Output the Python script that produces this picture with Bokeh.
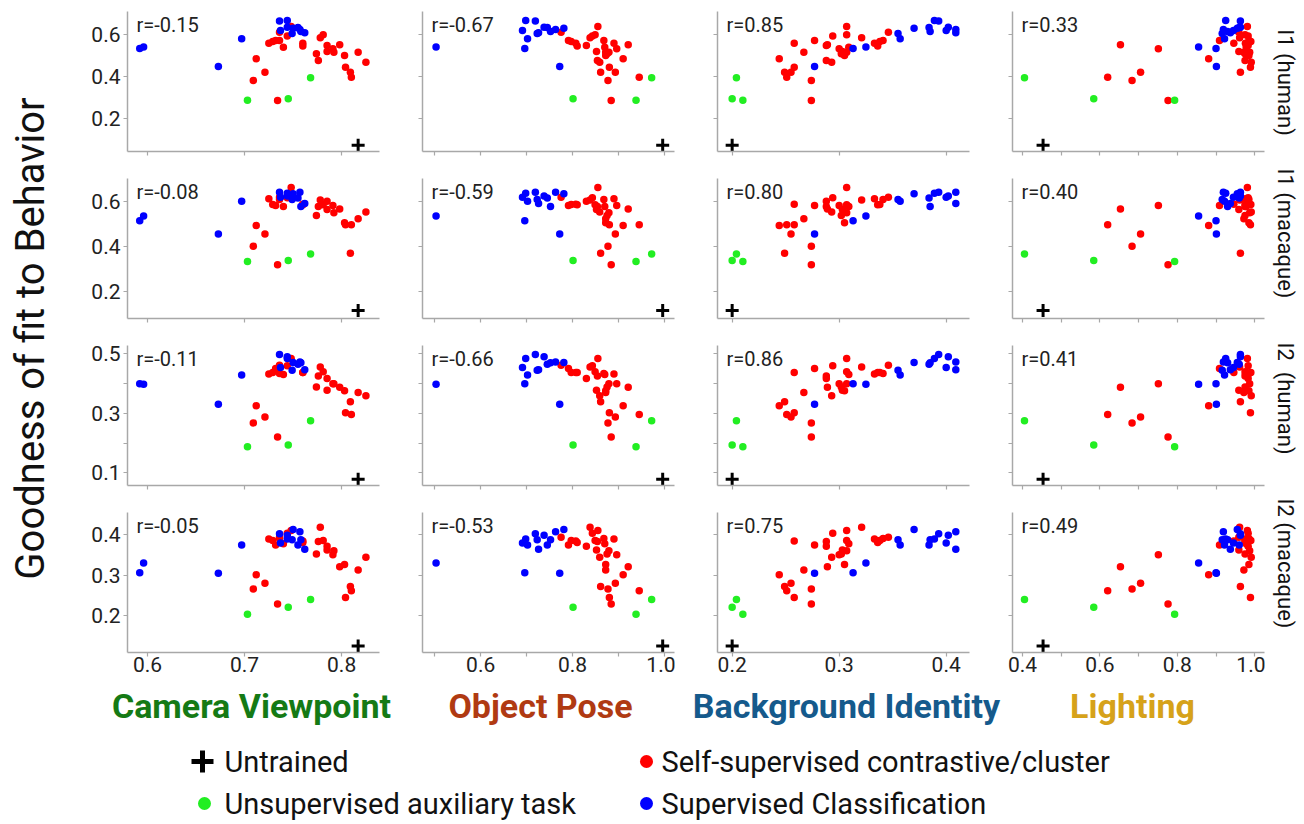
import math
from bokeh.plotting import figure
from bokeh.layouts import row, column
from bokeh.models import Range1d, FixedTicker, CustomJSTickFormatter, PrintfTickFormatter, Label
from bokeh.core.properties import value
from bokeh.embed import file_html
from bokeh.resources import INLINE

FONT = "Roboto"

# ---------------- data ----------------
features = ["Camera Viewpoint", "Object Pose", "Background Identity", "Lighting"]
feature_colors = ["#157a15", "#b03a12", "#155a8c", "#d6a21a"]
behaviors = ["I1 (human)", "I1 (macaque)", "I2\u00a0 (human)", "I2 (macaque)"]
r_values = [[-0.15, -0.67, 0.85, 0.33],
            [-0.08, -0.59, 0.80, 0.40],
            [-0.11, -0.66, 0.86, 0.41],
            [-0.05, -0.53, 0.75, 0.49]]

# Self-supervised contrastive/cluster models
red_cam = [.734, .709, .810, .809, .721, .804, .825, .776, .712, .803, .774, .817, .792, .785, .791,
           .740, .760, .785, .798, .760, .725, .729, .732, .736, .778, .744, .781, .736, .748]
red_pose = [.884, .877, .945, .861, .893, .880, .859, .854, .910, .872, .875, .872, .879, .852, .896,
            .870, .810, .830, .921, .807, .890, .797, .791, .868, .838, .843, .849, .775, .855]
red_bg = [.274, .274, .251, .249, .255, .258, .293, .288, .244, .305, .302, .267, .307, .303, .300,
          .309, .336, .288, .289, .258, .333, .338, .277, .341, .321, .294, .307, .346, .307]
red_light = [.776, .683, .620, .963, .705, .989, .991, .975, .881, .985, .975, .972, .987, .959, .751,
             .978, .979, .983, .653, .946, .976, .990, .909, .985, .961, .983, .975, .959, .981]
red_i1h = [.285, .381, .397, .421, .421, .445, .469, .477, .485, .501, .509, .517, .517, .520, .533,
           .541, .546, .549, .552, .560, .560, .568, .573, .573, .586, .594, .600, .613, .640]
red_i1m = [.319, .401, .496, .370, .455, .496, .553, .578, .493, .505, .538, .523, .550, .564, .582,
           .578, .585, .601, .567, .588, .612, .587, .582, .609, .607, .616, .585, .619, .662]
red_i2h = [.221, .268, .296, .339, .288, .302, .359, .426, .326, .376, .389, .370, .400, .378, .400,
           .431, .437, .417, .388, .437, .432, .437, .451, .434, .456, .460, .440, .462, .484]
red_i2m = [.229, .266, .262, .272, .280, .245, .344, .383, .301, .326, .352, .313, .360, .362, .350,
           .377, .380, .371, .321, .384, .389, .385, .374, .390, .418, .403, .385, .393, .410]

# Supervised Classification models
blue_cam = [.673, .592, .596, .697, .749, .762, .758, .737, .757, .750, .755, .744, .736, .744]
blue_pose = [.772, .696, .503, .702, .723, .726, .752, .691, .763, .781, .745, .738, .719, .698]
blue_bg = [.277, .313, .325, .357, .355, .409, .385, .400, .409, .370, .384, .402, .393, .389]
blue_light = [.901, .900, .855, .922, .916, .937, .930, .945, .919, .955, .960, .963, .963, .925]
blue_i1h = [.448, .534, .542, .581, .606, .610, .616, .621, .626, .632, .635, .637, .666, .669]
blue_i1m = [.455, .514, .535, .601, .609, .591, .578, .619, .641, .634, .615, .624, .641, .637]
blue_i2h = [.331, .400, .398, .429, .445, .447, .470, .454, .473, .471, .465, .490, .498, .484]
blue_i2m = [.305, .306, .330, .374, .387, .364, .387, .379, .407, .412, .374, .398, .402, .389]

# Unsupervised auxiliary task models
green_cam = [.703, .745, .768]
green_pose = [.938, .801, .972]
green_bg = [.210, .200, .204]
green_light = [.793, .584, .405]
green_i1h = [.286, .293, .394]
green_i1m = [.333, .338, .367]
green_i2h = [.188, .194, .275]
green_i2m = [.204, .221, .240]

# Untrained model
untrained_cam = [.817]
untrained_pose = [.996]
untrained_bg = [.200]
untrained_light = [.453]
untrained_i1h = [.070]
untrained_i1m = [.116]
untrained_i2h = [.079]
untrained_i2m = [.126]

groups = [
    dict(label="Self-supervised contrastive/cluster", color="#ff0000", marker="circle",
         xs=[red_cam, red_pose, red_bg, red_light], ys=[red_i1h, red_i1m, red_i2h, red_i2m]),
    dict(label="Supervised Classification", color="#0000ff", marker="circle",
         xs=[blue_cam, blue_pose, blue_bg, blue_light], ys=[blue_i1h, blue_i1m, blue_i2h, blue_i2m]),
    dict(label="Unsupervised auxiliary task", color="#22ee22", marker="circle",
         xs=[green_cam, green_pose, green_bg, green_light], ys=[green_i1h, green_i1m, green_i2h, green_i2m]),
    dict(label="Untrained", color="black", marker="cross",
         xs=[untrained_cam, untrained_pose, untrained_bg, untrained_light],
         ys=[untrained_i1h, untrained_i1m, untrained_i2h, untrained_i2m]),
]

# ---------------- axes setup ----------------
XR = [(0.5794, 0.839), (0.4735, 1.0217), (0.1863, 0.4218), (0.374, 1.0253)]
YR = [(0.040, 0.712), (0.080, 0.702), (0.058, 0.528), (0.110, 0.454)]
XT = [([0.6, 0.7, 0.8], []), ([0.6, 0.8, 1.0], [0.5, 0.7, 0.9]),
      ([0.2, 0.3, 0.4], []), ([0.4, 0.6, 0.8, 1.0], [0.5, 0.7, 0.9])]
YT = [([0.2, 0.4, 0.6], []), ([0.2, 0.4, 0.6], []),
      ([0.1, 0.3, 0.5], [0.2, 0.4]), ([0.2, 0.3, 0.4], [])]

AX_COLOR = "#a8a8a8"
PW = 295


def style_axis(ax, labeled, standoff):
    ax.axis_line_color = AX_COLOR
    ax.axis_line_width = 1.5
    ax.major_tick_line_color = AX_COLOR
    ax.minor_tick_line_color = AX_COLOR
    ax.major_tick_line_width = 1.2
    ax.minor_tick_line_width = 1.2
    ax.major_tick_out = 4
    ax.major_tick_in = 0
    ax.minor_tick_out = 4
    ax.minor_tick_in = 0
    ax.major_label_text_font = FONT
    ax.major_label_text_color = "#222222"
    if labeled:
        ax.major_label_text_font_size = "21px"
        ax.major_label_standoff = standoff
        ax.formatter = PrintfTickFormatter(format="%.1f")
    else:
        ax.major_label_text_font_size = "1px"
        ax.major_label_standoff = 0
        ax.formatter = CustomJSTickFormatter(code="return ''")


rows = []
row_heights = []
for r in range(4):
    figs = []
    last = (r == 3)
    top = 11 if r == 0 else 3
    bb = 34 if last else 24
    h = top + 140 + bb
    row_heights.append(h)
    for c in range(4):
        p = figure(width=PW, height=h, x_range=Range1d(*XR[c]), y_range=Range1d(*YR[r]),
                   output_backend="svg", toolbar_location=None, tools="",
                   min_border_left=42, min_border_right=1, min_border_top=top, min_border_bottom=bb)
        p.outline_line_color = None
        p.grid.visible = False
        p.xaxis.ticker = FixedTicker(ticks=XT[c][0], minor_ticks=XT[c][1])
        p.yaxis.ticker = FixedTicker(ticks=YT[r][0], minor_ticks=YT[r][1])
        style_axis(p.xaxis[0], last, 0)
        style_axis(p.yaxis[0], c == 0, 3)
        for g in groups:
            if g["marker"] == "cross":
                p.scatter(g["xs"][c], g["ys"][r], marker="cross", size=13,
                          line_color="black", line_width=3)
            else:
                p.scatter(g["xs"][c], g["ys"][r], marker="circle", size=7.5,
                          fill_color=g["color"], line_color=None)
        xs, xe = XR[c]
        ys, ye = YR[r]
        p.add_layout(Label(x=xs + 0.036 * (xe - xs), y=ye - 0.095 * (ye - ys),
                           text="r=%.2f" % r_values[r][c], text_font=FONT,
                           text_font_size="20px", text_color="#222222",
                           text_baseline="middle", text_align="left"))
        figs.append(p)
    rows.append(row(*figs))

TOTAL_H = sum(row_heights)


def blank(w, h):
    f = figure(width=w, height=h, x_range=Range1d(0, w), y_range=Range1d(h, 0),
               output_backend="svg", toolbar_location=None, tools="",
               x_axis_location=None, y_axis_location=None, min_border=0)
    f.outline_line_color = None
    f.grid.visible = False
    return f


ylab = blank(85, TOTAL_H)
ylab.text(x=[30], y=[338], text=["Goodness of fit to Behavior"], angle=math.pi / 2,
          text_align="center", text_baseline="middle", text_font=value(FONT),
          text_font_size="40px", text_color="#111111")

RW = 1304 - 85 - 4 * PW
rlab = blank(RW, TOTAL_H)
rlab.text(x=[1285 - (85 + 4 * PW)] * 4, y=[82, 233, 398, 563], text=behaviors, angle=-math.pi / 2,
          text_align="center", text_baseline="middle", text_font=value(FONT),
          text_font_size="22px", text_color="#111111")

BH = 824 - TOTAL_H
Y0 = TOTAL_H
bottom = blank(1304, BH)
bottom.text(x=[251, 540, 846, 1132], y=[705 - Y0] * 4, text=features, text_color=feature_colors,
            text_align="center", text_baseline="middle", text_font=value(FONT),
            text_font_style="bold", text_font_size="34px")

# legend
L1, L2 = 761, 803
bottom.scatter([202], [L1 - Y0], marker="cross", size=22, line_color="black", line_width=5)
bottom.scatter([646, 204, 646], [L1 - Y0, L2 - Y0, L2 - Y0], marker="circle", size=13,
               fill_color=["#ff0000", "#22ee22", "#0000ff"], line_color=None)
bottom.text(x=[224, 661, 224, 661], y=[L1 - Y0, L1 - Y0, L2 - Y0, L2 - Y0],
            text=["Untrained", "Self-supervised contrastive/cluster",
                  "Unsupervised auxiliary task", "Supervised Classification"],
            text_align="left", text_baseline="middle", text_font=value(FONT),
            text_font_size="29px", text_color="#111111")

layout = column(row(ylab, column(*rows), rlab), bottom)

open("out.html", "w").write(file_html(layout, INLINE))
